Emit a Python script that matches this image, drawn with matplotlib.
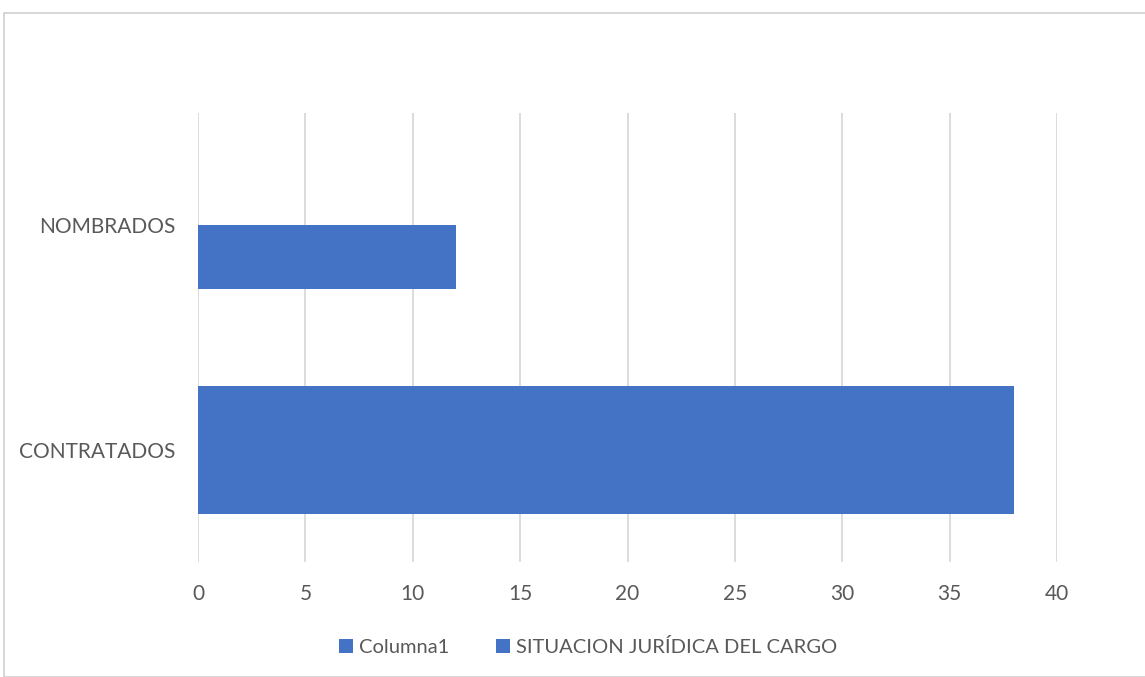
import numpy as np
import matplotlib.pyplot as plt
from matplotlib.patches import Rectangle

plt.rcParams['font.family'] = ['Lato', 'DejaVu Sans']

categories = ["CONTRATADOS", "NOMBRADOS"]
columna1 = [38, 12]
situacion = [38, 0]
series_names = ["Columna1", "SITUACION JURÍDICA DEL CARGO"]
xticks = [0, 5, 10, 15, 20, 25, 30, 35, 40]

blue = "#4472C4"
txt = "#595959"
grid_c = "#D9D9D9"

W, H = 1145, 677
fig = plt.figure(figsize=(W/100, H/100), dpi=100)
ax = fig.add_axes([198/W, 1-562/H, (1057-198)/W, (562-113)/H])

y = np.arange(len(categories))
bh = 0.284
ax.barh(y - bh/2, columna1, height=bh, color=blue, label=series_names[0], zorder=3)
ax.barh(y + bh/2, situacion, height=bh, color=blue, label=series_names[1], zorder=3)

ax.set_xlim(0, 40)
ax.set_ylim(-0.5, 1.5)
ax.set_xticks(xticks)
ax.set_yticks(y)
ax.set_yticklabels(categories)
ax.tick_params(length=0, labelsize=15, colors=txt)
ax.tick_params(axis='y', pad=16)
ax.tick_params(axis='x', pad=16)
ax.grid(axis='x', color=grid_c, linewidth=1.3, zorder=0)
for s in ax.spines.values():
    s.set_visible(False)

leg = fig.legend(loc='center', bbox_to_anchor=(588/W, 1-647/H), ncol=2, frameon=False,
                 fontsize=14.5, handlelength=0.7, handleheight=0.7, handletextpad=0.3,
                 columnspacing=2.3)
for t in leg.get_texts():
    t.set_color(txt)

fig.patches.append(Rectangle((4/W, 0), 1.0, 1-13/H, transform=fig.transFigure,
                             fill=False, edgecolor="#D0D0D0", linewidth=1.2))

fig.savefig("out.png", dpi=100)
